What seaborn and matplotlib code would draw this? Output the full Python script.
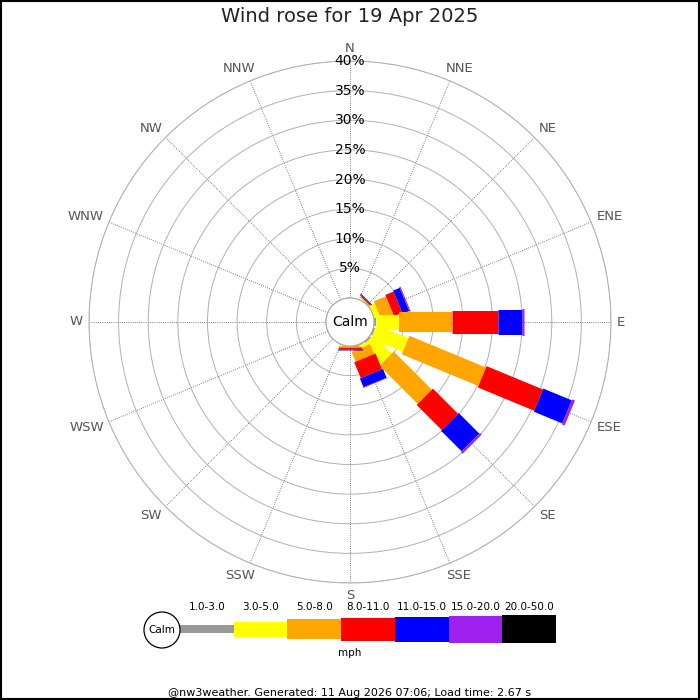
import numpy as np
import matplotlib
matplotlib.use("Agg")
import matplotlib.pyplot as plt
from matplotlib.patches import Circle, Rectangle
import seaborn as sns

# ---------------------------------------------------------------
# DATA  (percent of time per direction and speed bin)
# ---------------------------------------------------------------
TITLE = "Wind rose for 19 Apr 2025"
FOOTER = "@nw3weather. Generated: 11 Aug 2026 07:06; Load time: 2.67 s"
DIRECTIONS = ["N", "NNE", "NE", "ENE", "E", "ESE", "SE", "SSE",
              "S", "SSW", "SW", "WSW", "W", "WNW", "NW", "NNW"]
SPEED_BINS = ["1.0-3.0", "3.0-5.0", "5.0-8.0", "8.0-11.0",
              "11.0-15.0", "15.0-20.0", "20.0-50.0"]
BIN_COLORS = ["#999999", "#ffff00", "#ffa500", "#ff0000",
              "#0000ff", "#a020f0", "#000000"]

freq_N   = [0, 0, 0, 0, 0, 0, 0]
freq_NNE = [0, 0, 0, 0, 0, 0, 0]
freq_NE  = [0, 0.1, 0.2, 0.2, 0.15, 0, 0]
freq_ENE = [0, 1.0, 2.2, 1.5, 1.2, 0.2, 0]
freq_E   = [0.3, 3.9, 8.9, 7.8, 4.0, 0.35, 0]
freq_ESE = [0.3, 5.8, 14.0, 10.3, 5.2, 0.5, 0]
freq_SE  = [0.3, 4.4, 9.1, 6.0, 4.9, 0.4, 0]
freq_SSE = [0.2, 0.5, 1.8, 2.9, 1.6, 0.1, 0]
freq_S   = [0, 0, 0.2, 0.3, 0.2, 0, 0]
freq_SSW = [0, 0, 0, 0, 0, 0, 0]
freq_SW  = [0, 0, 0, 0, 0, 0, 0]
freq_WSW = [0, 0, 0, 0, 0, 0, 0]
freq_W   = [0, 0, 0, 0, 0, 0, 0]
freq_WNW = [0, 0, 0, 0, 0, 0, 0]
freq_NW  = [0, 0, 0, 0, 0, 0, 0]
freq_NNW = [0, 0, 0, 0, 0, 0, 0]
FREQS = [freq_N, freq_NNE, freq_NE, freq_ENE, freq_E, freq_ESE, freq_SE, freq_SSE,
         freq_S, freq_SSW, freq_SW, freq_WSW, freq_W, freq_WNW, freq_NW, freq_NNW]

RINGS = [5, 10, 15, 20, 25, 30, 35, 40]
RING_LABELS = ["5%", "10%", "15%", "20%", "25%", "30%", "35%", "40%"]

# ---------------------------------------------------------------
# LAYOUT (pixels on a 700x700 canvas)
# ---------------------------------------------------------------
W = H = 700
CX, CY = 350, 322          # rose centre
R_OUT = 261                # radius of 40% ring
R_CALM = 24                # calm circle radius
BAR_PX = [8, 15, 20, 23, 25, 27, 28]   # bar thickness per speed bin
RMAX = RINGS[-1]
px_per_pct = (R_OUT - R_CALM) / RMAX

sns.set_theme(style="white")
plt.rcParams["font.family"] = ["DejaVu Sans"]

fig = plt.figure(figsize=(7, 7), dpi=100)
fig.patch.set_facecolor("white")

ax = fig.add_axes([(CX - R_OUT) / W, (H - CY - R_OUT) / H, 2 * R_OUT / W, 2 * R_OUT / H],
                  projection="polar")
ax.set_theta_zero_location("N")
ax.set_theta_direction(-1)
ax.set_ylim(0, RMAX)
ax.set_rorigin(-R_CALM / px_per_pct)

angles = np.deg2rad(np.arange(16) * 22.5)
ax.set_xticks(angles)
ax.set_xticklabels([])
ax.set_yticks(RINGS)
ax.set_yticklabels([])
ax.tick_params(length=0)
ax.yaxis.grid(True, color="#b0b0b0", linestyle="-", linewidth=0.7)
ax.xaxis.grid(True, color="#555555", linestyle=(0, (1, 1.6)), linewidth=0.6)
ax.spines["polar"].set_color("#b0b0b0")
ax.spines["polar"].set_linewidth(0.7)
ax.spines["inner"].set_color("#aaaaaa")
ax.spines["inner"].set_linewidth(0.8)

# stacked bars, one thick butt-capped line per speed segment
for theta, freq in zip(angles, FREQS):
    base = 0.0
    for j, v in enumerate(freq):
        if v <= 0:
            continue
        ax.plot([theta, theta], [base, base + v], color=BIN_COLORS[j],
                linewidth=BAR_PX[j] * 0.72, solid_capstyle="butt", zorder=3)
        base += v

# ring labels along the N axis
for r, lab in zip(RINGS, RING_LABELS):
    ax.text(0, r, lab, ha="center", va="center", fontsize=10, color="black", zorder=4)

# compass labels: pushed out along the spoke, then sideways by half their width
renderer = fig.canvas.get_renderer()
for theta, name in zip(angles, DIRECTIONS):
    t = ax.text(theta, RMAX, name, ha="center", va="center", fontsize=9.5,
                color="#555555", clip_on=False)
    w = t.get_window_extent(renderer).width
    s, c = np.sin(theta), np.cos(theta)
    d = R_OUT + 6 + 6.5 * c ** 2
    px = d * s + w / 2 * s        # pixel offset from centre (x right)
    py = d * c                    # pixel offset from centre (y up)
    if abs(c) > 0.01:
        py += 3.5 * abs(s) * np.sign(c)
    t.set_position((np.arctan2(px, py), (np.hypot(px, py) - R_CALM) / px_per_pct))

# ---------------------------------------------------------------
# OVERLAY (pixel coordinates): calm, title, legend, footer
# ---------------------------------------------------------------
ov = fig.add_axes([0, 0, 1, 1])
ov.set_xlim(0, W)
ov.set_ylim(H, 0)
ov.axis("off")

ov.add_patch(Circle((CX, CY), R_CALM, facecolor="white", edgecolor="#aaaaaa",
                    linewidth=0.8, zorder=5))
ov.text(CX, CY, "Calm", ha="center", va="center", fontsize=10, color="black", zorder=6)

ov.text(W / 2, 17, TITLE, ha="center", va="center", fontsize=14, color="#222222")

# legend
LEG_X0, LEG_X1, LEG_Y = 180, 556, 629
seg_w = (LEG_X1 - LEG_X0) / len(SPEED_BINS)
seg_x = LEG_X0 + seg_w * np.arange(len(SPEED_BINS))
seg_h = np.array(BAR_PX)
ov.bar(seg_x, seg_h, width=seg_w, bottom=LEG_Y - seg_h / 2, align="edge",
       color=BIN_COLORS, linewidth=0)
for x, lab in zip(seg_x, SPEED_BINS):
    ov.text(x + seg_w / 2, 607, lab, ha="center", va="center", fontsize=7.5, color="black")
ov.add_patch(Circle((162, 630), 18, facecolor="white", edgecolor="black", linewidth=0.9))
ov.text(162, 630, "Calm", ha="center", va="center", fontsize=7.5, color="black")
ov.text(W / 2, 653, "mph", ha="center", va="center", fontsize=7.5, color="black")

ov.text(W / 2, 693, FOOTER, ha="center", va="center", fontsize=8, color="black")

# image frame
ov.add_patch(Rectangle((0.5, 0.5), W - 1.5, H - 1.5, fill=False, edgecolor="black",
                       linewidth=1.5, zorder=10))

fig.savefig("out.png", dpi=100, facecolor="white")
plt.close(fig)
